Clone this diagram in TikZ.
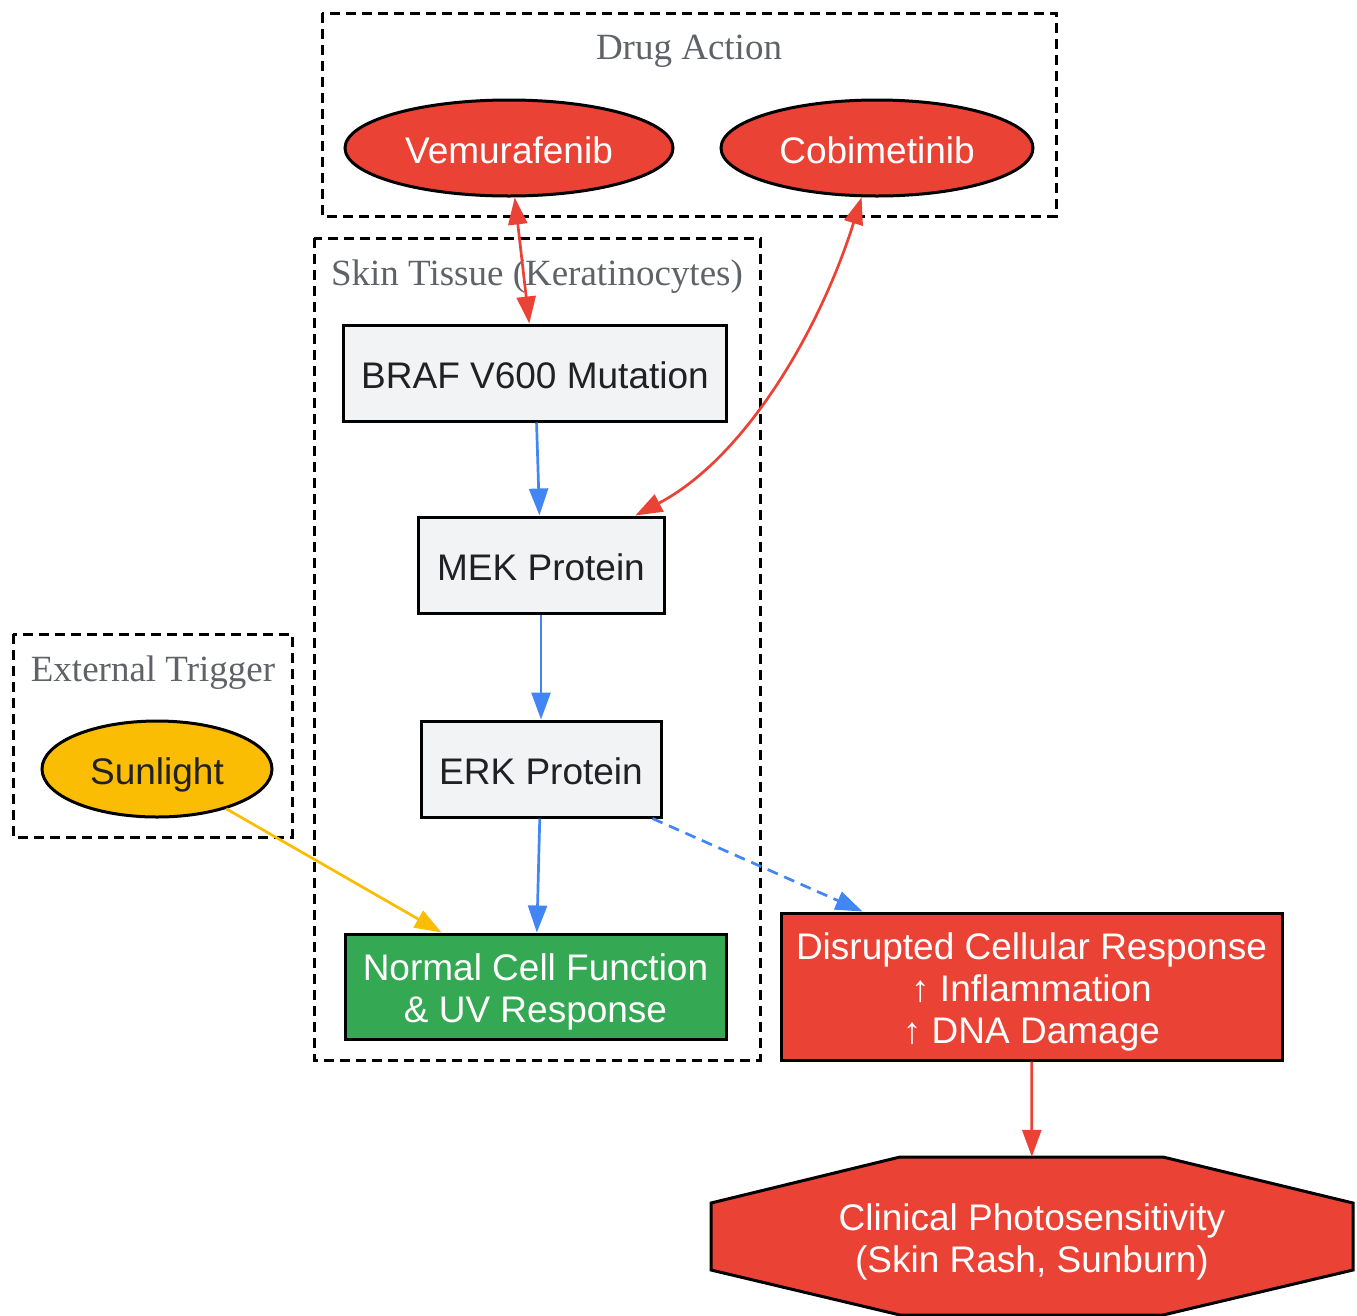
\documentclass[tikz,border=0pt]{standalone}
\usepackage{fontspec}
\setmainfont{Liberation Serif}
\setsansfont{Liberation Sans}
\usetikzlibrary{shapes.geometric,arrows.meta}
\definecolor{gred}{HTML}{EA4335}
\definecolor{gblue}{HTML}{4285F4}
\definecolor{ggreen}{HTML}{34A853}
\definecolor{gyellow}{HTML}{FBBC04}
\definecolor{glight}{HTML}{F1F3F4}
\definecolor{gtext}{HTML}{202124}
\definecolor{ggray}{HTML}{5F6368}
\begin{document}
\begin{tikzpicture}[x=1pt,y=-1pt,
  every node/.style={font=\sffamily\fontsize{37}{42}\selectfont,inner sep=0pt,align=center},
  >={Triangle[length=27pt,width=19pt]},
  cluster/.style={draw,line width=3pt,dash pattern=on 10pt off 6pt},
  clabel/.style={font=\rmfamily\fontsize{37}{42}\selectfont,text=ggray},
  oneline/.style={text height=30pt,text depth=0pt},
  twolines/.style={text height=72pt,text depth=0pt},
  threelines/.style={text height=114pt,text depth=0pt},
  prot/.style={rectangle,draw,line width=3pt,fill=glight,text=gtext,minimum height=96pt,oneline},
  drug/.style={ellipse,draw,line width=3pt,fill=gred,text=white,minimum height=96pt,oneline},
  effect/.style={rectangle,draw,line width=3pt,text=white},
  link/.style={line width=2.7pt}]
\useasboundingbox (0,0) rectangle (1357,1315);
% clusters
\draw[cluster] (322,13) rectangle (1056,216);
\node[clabel] (drugtitle) at (689,51) {Drug Action};
\draw[cluster] (314,238) rectangle (760,1060);
\node[clabel] (skintitle) at (537,277) {Skin Tissue (Keratinocytes)};
\draw[cluster] (13,634) rectangle (292,837);
\node[clabel] (triggertitle) at (153,673) {External Trigger};
% nodes
\node[drug,minimum width=328pt] (vemu) at (509,148) {Vemurafenib};
\node[drug,minimum width=312pt] (cobi) at (877,148) {Cobimetinib};
\node[drug,minimum width=230pt,fill=gyellow,text=gtext] (sun) at (157,769) {Sunlight};
\node[prot,minimum width=383pt] (braf) at (535,373) {BRAF V600 Mutation};
\node[prot,minimum width=246pt] (mek) at (541,565) {MEK Protein};
\node[prot,minimum width=240pt] (erk) at (541,769) {ERK Protein};
\node[effect,twolines,fill=ggreen,minimum width=381pt,minimum height=105pt] (normal) at (535.5,986.5) {Normal Cell Function\\\& UV Response};
\node[effect,threelines,fill=gred,minimum width=501pt,minimum height=147pt] (disr) at (1031.5,986.5) {Disrupted Cellular Response\\↑ Inflammation\\↑ DNA Damage};
\coordinate (clinc) at (1032,1236);
\filldraw[fill=gred,line width=3pt] ([xshift=-132pt,yshift=79pt]clinc) -- ([xshift=131pt,yshift=79pt]clinc)
  -- ([xshift=321pt,yshift=33pt]clinc) -- ([xshift=321pt,yshift=-34pt]clinc)
  -- ([xshift=131pt,yshift=-79pt]clinc) -- ([xshift=-132pt,yshift=-79pt]clinc)
  -- ([xshift=-321pt,yshift=-34pt]clinc) -- ([xshift=-321pt,yshift=33pt]clinc) -- cycle;
\node[twolines,text=white,minimum width=642pt,minimum height=158pt] (clin) at (clinc) {Clinical Photosensitivity\\(Skin Rash, Sunburn)};
% edges
\draw[link,gred,<->] (vemu) -- (braf);
\draw[link,gred,<->] (cobi) .. controls (820,330) and (745,458) .. (mek);
\draw[link,gblue,->] (braf) -- (mek);
\draw[link,gblue,->] (mek) -- (erk);
\draw[link,gblue,->] (erk) -- (normal);
\draw[link,gblue,->,dash pattern=on 11pt off 7pt] (erk) -- (disr);
\draw[link,gyellow,->] (sun) -- (normal);
\draw[link,gred,->] (disr) -- (clin);
\end{tikzpicture}
\end{document}
